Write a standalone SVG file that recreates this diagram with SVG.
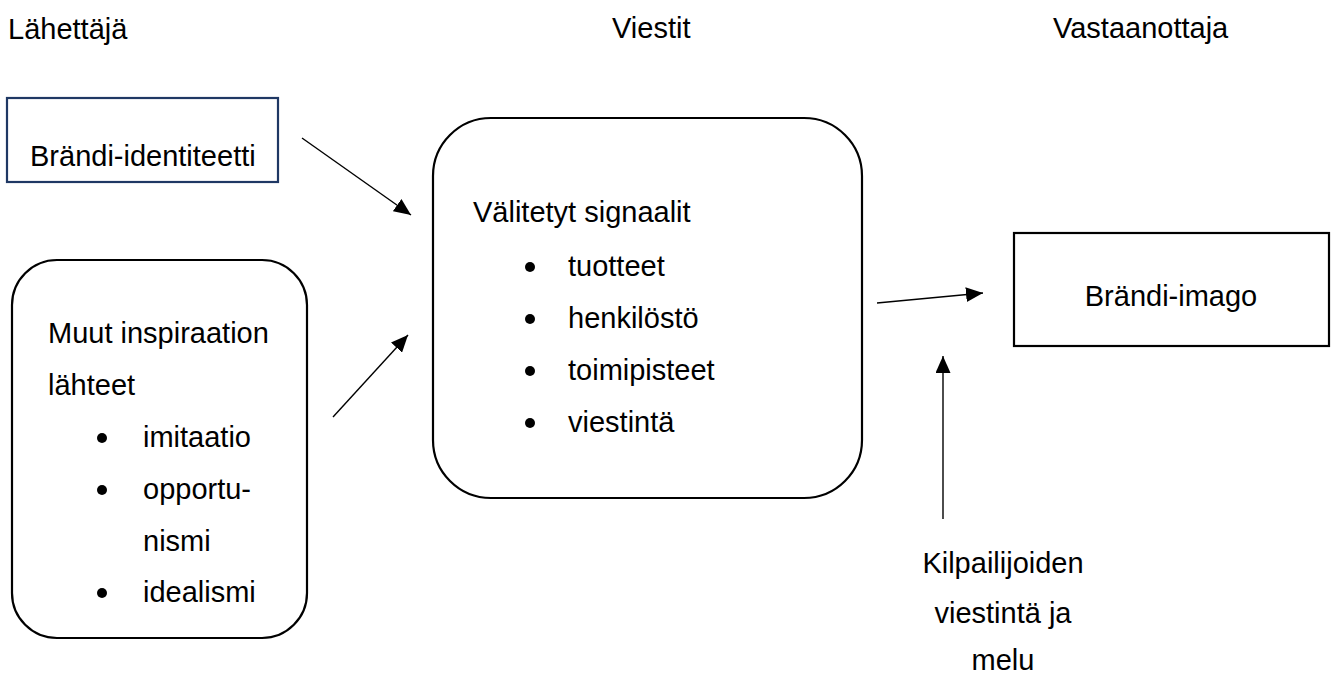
<svg xmlns="http://www.w3.org/2000/svg" width="1336" height="677" viewBox="0 0 1336 677">
<style>
text{font-family:"Liberation Sans",Arial,sans-serif;font-size:29px;fill:#000}
.box{fill:#fff;stroke:#000;stroke-width:2.2}
.navy{stroke:#1f3864}
.conn{stroke:#000;stroke-width:1.4;fill:none;marker-end:url(#ah)}
.dot{fill:#000}
</style>
<defs>
<marker id="ah" markerUnits="userSpaceOnUse" viewBox="0 0 17 15" markerWidth="17" markerHeight="15" refX="17" refY="7.5" orient="auto">
<path d="M0,0 L17,7.5 L0,15 z" fill="#000"/>
</marker>
</defs>
<rect width="1336" height="677" fill="#fff"/>
<g id="headers">
<text x="8" y="39">Lähettäjä</text>
<text x="612" y="38">Viestit</text>
<text x="1053" y="38">Vastaanottaja</text>
</g>
<g id="identiteetti">
<rect class="box navy" x="7" y="98" width="271" height="84"/>
<text x="30" y="166">Brändi-identiteetti</text>
</g>
<g id="inspiraatio">
<rect class="box" x="12" y="260" width="295" height="378" rx="45" ry="45"/>
<text x="48" y="343">Muut inspiraation</text>
<text x="48" y="395">lähteet</text>
<circle class="dot" cx="102" cy="438" r="5"/>
<text x="143" y="447">imitaatio</text>
<circle class="dot" cx="102" cy="490" r="5"/>
<text x="143" y="499">opportu-</text>
<text x="143" y="551">nismi</text>
<circle class="dot" cx="102" cy="593" r="5"/>
<text x="143" y="602">idealismi</text>
</g>
<g id="signaalit">
<rect class="box" x="433" y="118" width="429" height="380" rx="58" ry="58"/>
<text x="473" y="222">Välitetyt signaalit</text>
<circle class="dot" cx="530" cy="267" r="5"/>
<text x="568" y="276">tuotteet</text>
<circle class="dot" cx="530" cy="319" r="5"/>
<text x="568" y="328">henkilöstö</text>
<circle class="dot" cx="530" cy="371" r="5"/>
<text x="568" y="380">toimipisteet</text>
<circle class="dot" cx="530" cy="423" r="5"/>
<text x="568" y="432">viestintä</text>
</g>
<g id="imago">
<rect class="box" x="1014" y="233" width="315" height="113"/>
<text x="1171" y="306" text-anchor="middle">Brändi-imago</text>
</g>
<g id="kilpailijat">
<text x="1003" y="573" text-anchor="middle">Kilpailijoiden</text>
<text x="1003" y="623" text-anchor="middle">viestintä ja</text>
<text x="1003" y="670" text-anchor="middle">melu</text>
</g>
<g id="connectors">
<line class="conn" x1="302" y1="138" x2="411" y2="215"/>
<line class="conn" x1="333" y1="417" x2="408" y2="335"/>
<line class="conn" x1="877" y1="303" x2="983" y2="293"/>
<line class="conn" x1="943" y1="519" x2="943" y2="356"/>
</g>
</svg>
